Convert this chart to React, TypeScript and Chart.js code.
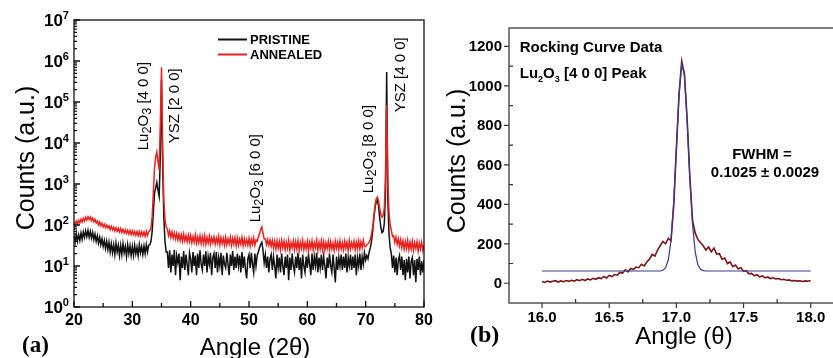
import React, { useEffect, useRef } from "react";
import { Chart, registerables } from "chart.js";

Chart.register(...registerables);

const SANS = '"Liberation Sans", Arial, Helvetica, sans-serif';
const SERIF = '"Liberation Serif", "Times New Roman", serif';

// ---------- (a) XRD 2-theta scan ----------
const xrdStartAngle = 20;
const xrdAngleStep = 0.2;
const pristineCounts = [
  55, 38, 62, 40, 58, 42, 64, 45, 68, 50,
  72, 52, 74, 50, 70, 48, 66, 44, 60, 40,
  55, 36, 50, 33, 46, 30, 42, 27, 40, 25,
  38, 22, 35, 21, 33, 19, 36, 22, 32, 18,
  32, 19, 35, 21, 30, 17, 33, 20, 31, 18,
  30, 18, 32, 20, 29, 18, 33, 21, 30, 19,
  31, 20, 33, 22, 32, 33, 40, 70, 200, 600,
  800, 1100, 700, 500, 5000, 350000, 3000, 150, 40, 22,
  22, 9, 24, 7, 19, 10, 25, 6, 18, 12,
  20, 4.5, 17, 9, 23, 8, 19, 11, 6, 21,
  15, 7, 22, 10, 18, 6, 20, 9, 24, 11,
  8, 19, 10, 23, 7, 17, 11, 21, 6, 16,
  20, 9, 22, 7, 16, 10, 21, 6, 18, 11,
  9, 21, 11, 6, 19, 10, 23, 8, 17, 9,
  20, 10, 18, 7, 22, 9, 17, 8, 5, 15,
  19, 9, 21, 11, 7, 20, 10, 18, 22, 28,
  34, 38, 24, 12, 19, 9, 17, 7, 15, 19,
  8, 17, 10, 5, 19, 9, 16, 7, 20, 10,
  6, 17, 9, 19, 4.5, 16, 8, 20, 10, 7,
  17, 9, 21, 8, 16, 5, 19, 10, 7, 17,
  9, 19, 11, 6, 20, 8, 17, 10, 21, 7,
  16, 9, 19, 8, 17, 10, 5, 16, 9, 20,
  10, 7, 19, 9, 4, 17, 8, 16, 10, 19,
  8, 17, 9, 20, 7, 16, 10, 19, 8, 17,
  9, 19, 6, 16, 10, 20, 8, 17, 11, 21,
  14, 18, 15, 22, 28, 40, 70, 140, 260, 360,
  400, 300, 150, 90, 65, 70, 110, 600, 540000, 400,
  60, 28, 20, 9, 18, 7, 16, 6, 14, 18,
  8, 17, 6, 14, 4.5, 15, 7, 17, 5, 13,
  16, 6, 14, 4, 15, 8, 17, 6, 13, 7,
  14,
];
const annealedCounts = [
  118, 100, 125, 105, 130, 112, 138, 118, 145, 125,
  155, 132, 158, 136, 156, 128, 148, 120, 138, 112,
  125, 100, 118, 96, 110, 90, 104, 86, 100, 84,
  96, 78, 92, 76, 88, 72, 86, 70, 83, 68,
  82, 66, 78, 64, 76, 62, 74, 60, 73, 58,
  72, 58, 70, 56, 69, 55, 70, 54, 68, 55,
  68, 53, 70, 55, 68, 72, 85, 160, 600, 2500,
  4500, 6000, 3500, 2200, 30000, 700000, 8000, 400, 140, 90,
  80, 55, 72, 50, 68, 48, 64, 46, 62, 44,
  60, 42, 58, 40, 60, 41, 55, 39, 57, 40,
  56, 37, 52, 38, 57, 36, 51, 37, 54, 35,
  52, 35, 55, 34, 50, 36, 53, 34, 49, 37,
  51, 34, 48, 36, 53, 33, 49, 35, 47, 32,
  50, 33, 46, 35, 51, 32, 47, 34, 49, 31,
  48, 32, 45, 34, 50, 31, 46, 33, 44, 32,
  47, 31, 45, 34, 49, 32, 43, 40, 50, 60,
  78, 90, 62, 46, 46, 33, 44, 32, 43, 30,
  42, 28, 40, 26, 41, 27, 39, 25, 42, 28,
  40, 25, 38, 27, 42, 24, 37, 28, 41, 25,
  39, 26, 41, 24, 38, 27, 42, 25, 37, 26,
  40, 24, 38, 27, 41, 25, 37, 28, 42, 24,
  38, 26, 41, 25, 39, 24, 37, 27, 40, 25,
  39, 26, 36, 24, 40, 27, 38, 25, 41, 26,
  37, 25, 40, 27, 38, 24, 41, 26, 37, 28,
  40, 25, 38, 27, 41, 26, 39, 28, 42, 30,
  30, 33, 35, 38, 45, 60, 90, 160, 300, 430,
  480, 400, 260, 180, 155, 170, 260, 1500, 85000, 1200,
  200, 100, 75, 52, 55, 38, 50, 34, 46, 31,
  44, 28, 41, 26, 39, 27, 42, 25, 38, 26,
  40, 24, 37, 27, 39, 23, 36, 26, 38, 24,
  32,
];
const xrdAngleTicks = [20, 30, 40, 50, 60, 70, 80];
const xrdCountExponents = [0, 1, 2, 3, 4, 5, 6, 7];
const xrdSeriesNames = ["PRISTINE", "ANNEALED"];
const xrdPeakNames = ["Lu_2O_3 [4 0 0]", "YSZ [2 0 0]", "Lu_2O_3 [6 0 0]", "Lu_2O_3 [8 0 0]", "YSZ [4 0 0]"];

// ---------- (b) rocking curve ----------
const rockStartAngle = 16.0;
const rockAngleStep = 0.02;
const rockingCounts = [
  9, 4, 11, 6, 10, 13, 6, 12, 8, 14,
  10, 15, 11, 18, 13, 20, 14, 22, 17, 25,
  20, 28, 24, 35, 27, 40, 34, 44, 41, 55,
  52, 68, 58, 75, 70, 82, 79, 96, 88, 108,
  122, 146, 138, 168, 190, 212, 200, 228, 215, 390,
  680, 960, 1125, 1060, 830, 545, 320, 255, 222, 205,
  190, 168, 184, 160, 178, 148, 150, 122, 128, 100,
  108, 84, 92, 72, 80, 60, 64, 48, 50, 38,
  44, 32, 37, 27, 32, 24, 28, 22, 24, 18,
  20, 15, 17, 12, 14, 11, 13, 9, 12, 10,
  14,
];
const fitAngles = [16.0, 16.88, 16.9, 16.92, 16.94, 16.96, 16.98, 17.0, 17.02, 17.04, 17.06, 17.08, 17.1, 17.12, 17.14, 17.16, 17.18, 17.2, 17.22, 18.0];
const fitCounts = [62, 62, 66, 79, 119, 218, 409, 680, 957, 1112, 1054, 826, 536, 302, 159, 94, 71, 64, 62, 62];
const rockAngleTicks = [16.0, 16.5, 17.0, 17.5, 18.0];
const rockCountTicks = [0, 200, 400, 600, 800, 1000, 1200];
const rockTexts = ["Rocking Curve Data", "Lu_2O_3 [4 0 0] Peak", "FWHM =", "0.1025 \u00b1 0.0029"];

// ---------- helpers ----------
type Seg = { t: string; k: string };
function parseRich(text: string): Seg[] {
  const out: Seg[] = [];
  let i = 0;
  while (i < text.length) {
    const c = text[i];
    if (c === "_" || c === "^") {
      out.push({ t: text[i + 1], k: c });
      i += 2;
    } else {
      let j = i;
      while (j < text.length && text[j] !== "_" && text[j] !== "^") j++;
      out.push({ t: text.slice(i, j), k: "" });
      i = j;
    }
  }
  return out;
}
type RichOpts = { size: number; weight?: string; family?: string; small?: number; subShift?: number; supShift?: number; align?: string; color?: string };
function drawRich(ctx: CanvasRenderingContext2D, text: string, x: number, y: number, o: RichOpts) {
  const segs = parseRich(text);
  const fam = o.family || SANS;
  const w8 = o.weight || "normal";
  const small = o.small ?? 0.65;
  const fontFor = (s: Seg) => `${w8} ${s.k ? o.size * small : o.size}px ${fam}`;
  let w = 0;
  for (const s of segs) {
    ctx.font = fontFor(s);
    w += ctx.measureText(s.t).width;
  }
  let cx = o.align === "center" ? x - w / 2 : o.align === "right" ? x - w : x;
  ctx.textAlign = "left";
  ctx.textBaseline = "alphabetic";
  ctx.fillStyle = o.color || "#000";
  for (const s of segs) {
    ctx.font = fontFor(s);
    const dy = s.k === "_" ? o.size * (o.subShift ?? 0.2) : s.k === "^" ? -o.size * (o.supShift ?? 0.45) : 0;
    ctx.fillText(s.t, cx, y + dy);
    cx += ctx.measureText(s.t).width;
  }
}

const xrdPlugin = {
  id: "xrdDecor",
  afterDraw(chart: any) {
    const { ctx, chartArea: a, scales } = chart;
    const x = scales.x;
    const y = scales.y;
    ctx.save();
    ctx.strokeStyle = "#111";
    ctx.lineWidth = 1.3;
    ctx.strokeRect(a.left, a.top, a.right - a.left, a.bottom - a.top);
    ctx.beginPath();
    for (let v = 20; v <= 80; v += 5) {
      const px = x.getPixelForValue(v);
      ctx.moveTo(px, a.bottom);
      ctx.lineTo(px, a.bottom - (v % 10 === 0 ? 6 : 4));
    }
    for (const e of xrdCountExponents) {
      const py = y.getPixelForValue(Math.pow(10, e));
      ctx.moveTo(a.left, py);
      ctx.lineTo(a.left + 6, py);
      if (e < 7) {
        for (let m = 2; m <= 9; m++) {
          const q = y.getPixelForValue(m * Math.pow(10, e));
          ctx.moveTo(a.left, q);
          ctx.lineTo(a.left + 3, q);
        }
      }
    }
    ctx.stroke();

    // tick labels
    ctx.fillStyle = "#000";
    ctx.textAlign = "center";
    ctx.textBaseline = "alphabetic";
    ctx.font = `bold 16px ${SANS}`;
    for (const v of xrdAngleTicks) {
      ctx.fillText(String(v), x.getPixelForValue(v), a.bottom + 18);
    }
    for (const e of xrdCountExponents) {
      const py = y.getPixelForValue(Math.pow(10, e));
      drawRich(ctx, `10^${e}`, a.left - 5, py + 6, { size: 17, weight: "bold", small: 0.65, supShift: 0.42, align: "right" });
    }

    // legend
    const legColors = ["#111", "#e8231f"];
    xrdSeriesNames.forEach((name, i) => {
      const ly = 39.5 + i * 15;
      ctx.strokeStyle = legColors[i];
      ctx.lineWidth = 2;
      ctx.beginPath();
      ctx.moveTo(218, ly);
      ctx.lineTo(247, ly);
      ctx.stroke();
      ctx.fillStyle = "#000";
      ctx.font = `bold 13px ${SANS}`;
      ctx.textAlign = "left";
      ctx.fillText(name, 250, ly + 4.5);
    });

    // peak labels (anchored in data coordinates)
    const anchors = [[32.77, 6650], [38.0, 9800], [51.89, 116], [71.26, 594], [76.74, 56000]];
    anchors.forEach(([ang, cnt], i) => {
      ctx.save();
      ctx.translate(x.getPixelForValue(ang), y.getPixelForValue(cnt));
      ctx.rotate(-Math.PI / 2);
      drawRich(ctx, xrdPeakNames[i], 0, 0, { size: 15, small: 0.85, subShift: 0.18, align: "left" });
      ctx.restore();
    });

    // axis titles
    ctx.save();
    ctx.translate(34, 158);
    ctx.rotate(-Math.PI / 2);
    drawRich(ctx, "Counts (a.u.)", 0, 0, { size: 25, align: "center" });
    ctx.restore();
    drawRich(ctx, "Angle (2\u03b8)", 255, 355, { size: 24, align: "center" });
    drawRich(ctx, "(a)", 22, 352, { size: 23, weight: "bold", family: SERIF, align: "left" });
    ctx.restore();
  },
};

const rockPlugin = {
  id: "rockDecor",
  afterDraw(chart: any) {
    const { ctx, chartArea: a, scales, width } = chart;
    const x = scales.x;
    const y = scales.y;
    ctx.save();
    ctx.strokeStyle = "#555";
    ctx.lineWidth = 1.5;
    ctx.beginPath();
    ctx.moveTo(width, a.top);
    ctx.lineTo(a.left, a.top);
    ctx.lineTo(a.left, a.bottom);
    ctx.lineTo(width, a.bottom);
    ctx.stroke();

    ctx.strokeStyle = "#333";
    ctx.lineWidth = 1.2;
    ctx.beginPath();
    for (const v of rockCountTicks) {
      const py = y.getPixelForValue(v);
      ctx.moveTo(a.left - 5, py);
      ctx.lineTo(a.left, py);
    }
    for (let v = 100; v <= 1100; v += 200) {
      const py = y.getPixelForValue(v);
      ctx.moveTo(a.left, py);
      ctx.lineTo(a.left + 4, py);
    }
    for (const v of rockAngleTicks) {
      const px = x.getPixelForValue(v);
      ctx.moveTo(px, a.bottom);
      ctx.lineTo(px, a.bottom + 5);
    }
    for (let v = 16.25; v < 18; v += 0.5) {
      const px = x.getPixelForValue(v);
      ctx.moveTo(px, a.bottom);
      ctx.lineTo(px, a.bottom - 4);
    }
    ctx.stroke();

    ctx.fillStyle = "#000";
    ctx.font = `bold 15px ${SANS}`;
    ctx.textBaseline = "alphabetic";
    ctx.textAlign = "right";
    for (const v of rockCountTicks) {
      ctx.fillText(String(v), a.left - 7, y.getPixelForValue(v) + 5);
    }
    ctx.textAlign = "center";
    for (const v of rockAngleTicks) {
      ctx.fillText(v.toFixed(1), x.getPixelForValue(v), a.bottom + 19);
    }

    // inner texts (anchored in data coordinates)
    drawRich(ctx, rockTexts[0], x.getPixelForValue(15.834), y.getPixelForValue(1173), { size: 15, weight: "bold", align: "left" });
    drawRich(ctx, rockTexts[1], x.getPixelForValue(15.834), y.getPixelForValue(1041), { size: 15, weight: "bold", small: 0.6, subShift: 0.3, align: "left" });
    drawRich(ctx, rockTexts[2], x.getPixelForValue(17.637), y.getPixelForValue(630), { size: 15, weight: "bold", align: "center" });
    drawRich(ctx, rockTexts[3], x.getPixelForValue(17.66), y.getPixelForValue(539), { size: 15, weight: "bold", align: "center" });

    ctx.save();
    ctx.translate(25, 161);
    ctx.rotate(-Math.PI / 2);
    drawRich(ctx, "Counts (a.u.)", 0, 0, { size: 25, align: "center" });
    ctx.restore();
    drawRich(ctx, "Angle (\u03b8)", 244, 344, { size: 24, align: "center" });
    drawRich(ctx, "(b)", 30, 342, { size: 24, weight: "bold", family: SERIF, align: "left" });
    ctx.restore();
  },
};

export default function App() {
  const leftRef = useRef<HTMLCanvasElement>(null);
  const rightRef = useRef<HTMLCanvasElement>(null);

  useEffect(() => {
    const xrdAngles = pristineCounts.map((_, i) => +(xrdStartAngle + i * xrdAngleStep).toFixed(2));
    const rockAngles = rockingCounts.map((_, i) => +(rockStartAngle + i * rockAngleStep).toFixed(3));

    const c1 = new Chart(leftRef.current as HTMLCanvasElement, {
      type: "line",
      data: {
        datasets: [
          {
            label: xrdSeriesNames[1],
            data: xrdAngles.map((ang, i) => ({ x: ang, y: annealedCounts[i] })),
            borderColor: "#e8231f",
            borderWidth: 1.5,
            pointRadius: 0,
            order: 0,
          },
          {
            label: xrdSeriesNames[0],
            data: xrdAngles.map((ang, i) => ({ x: ang, y: pristineCounts[i] })),
            borderColor: "#111",
            borderWidth: 1.5,
            pointRadius: 0,
            order: 1,
          },
        ],
      },
      options: {
        animation: false,
        responsive: false,
        maintainAspectRatio: false,
        layout: { padding: { left: 0, top: 20, right: 16, bottom: 0 } },
        plugins: { legend: { display: false }, tooltip: { enabled: false } },
        elements: { line: { tension: 0 }, point: { radius: 0 } },
        scales: {
          x: {
            type: "linear",
            min: 20,
            max: 80,
            grid: { display: false },
            border: { display: false },
            ticks: { display: false },
            afterFit: (s: any) => { s.height = 51; },
          },
          y: {
            type: "logarithmic",
            min: 1,
            max: 1e7,
            grid: { display: false },
            border: { display: false },
            ticks: { display: false },
            afterFit: (s: any) => { s.width = 74; },
          },
        },
      } as any,
      plugins: [xrdPlugin],
    });

    const c2 = new Chart(rightRef.current as HTMLCanvasElement, {
      type: "line",
      data: {
        datasets: [
          {
            label: "Fit",
            data: fitAngles.map((ang, i) => ({ x: ang, y: fitCounts[i] })),
            borderColor: "#3b3b8f",
            borderWidth: 1.2,
            pointRadius: 0,
            order: 0,
          },
          {
            label: "Data",
            data: rockAngles.map((ang, i) => ({ x: ang, y: rockingCounts[i] })),
            borderColor: "#7a1518",
            borderWidth: 1.6,
            pointRadius: 0,
            order: 1,
          },
        ],
      },
      options: {
        animation: false,
        responsive: false,
        maintainAspectRatio: false,
        layout: { padding: { left: 0, top: 28, right: 0, bottom: 0 } },
        plugins: { legend: { display: false }, tooltip: { enabled: false } },
        elements: { line: { tension: 0 }, point: { radius: 0 } },
        scales: {
          x: {
            type: "linear",
            min: 15.754,
            max: 18.166,
            grid: { display: false },
            border: { display: false },
            ticks: { display: false },
            afterFit: (s: any) => { s.height = 55; },
          },
          y: {
            type: "linear",
            min: -100,
            max: 1293,
            grid: { display: false },
            border: { display: false },
            ticks: { display: false },
            afterFit: (s: any) => { s.width = 69; },
          },
        },
      } as any,
      plugins: [rockPlugin],
    });

    return () => {
      c1.destroy();
      c2.destroy();
    };
  }, []);

  return (
    <div style={{ position: "fixed", left: 0, top: 0, width: 833, height: 358, background: "#fff", overflow: "hidden" }}>
      <canvas ref={leftRef} width={440} height={358} style={{ position: "absolute", left: 0, top: 0, width: 440, height: 358 }} />
      <canvas ref={rightRef} width={393} height={358} style={{ position: "absolute", left: 440, top: 0, width: 393, height: 358 }} />
    </div>
  );
}
